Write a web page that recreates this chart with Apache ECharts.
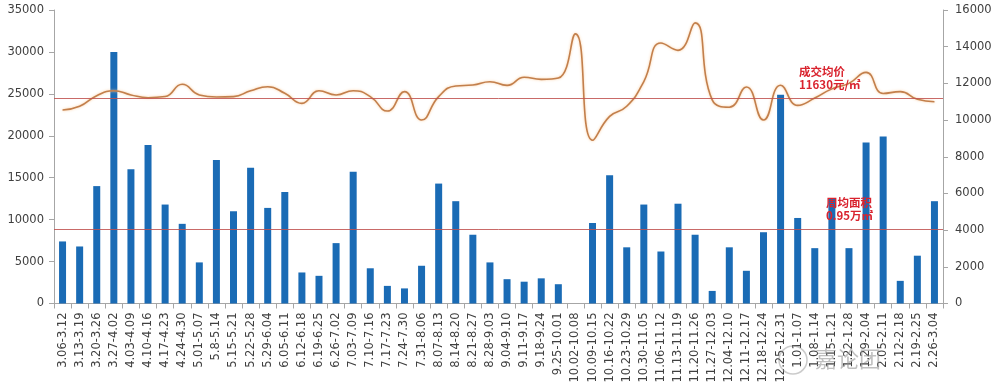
<!DOCTYPE html>
<html>
<head>
<meta charset="utf-8">
<script src="https://cdn.jsdelivr.net/npm/echarts@6/dist/echarts.min.js"></script>
<style>
html,body{margin:0;padding:0;background:#fff;}
#main{width:1000px;height:392px;}
</style>
</head>
<body>
<div id="main"></div>
<script>
var categories = ["3.06-3.12","3.13-3.19","3.20-3.26","3.27-4.02","4.03-4.09","4.10-4.16","4.17-4.23","4.24-4.30","5.01-5.07","5.8-5.14","5.15-5.21","5.22-5.28","5.29-6.04","6.05-6.11","6.12-6.18","6.19-6.25","6.26-7.02","7.03-7.09","7.10-7.16","7.17-7.23","7.24-7.30","7.31-8.06","8.07-8.13","8.14-8.20","8.21-8.27","8.28-9.03","9.04-9.10","9.11-9.17","9.18-9.24","9.25-10.01","10.02-10.08","10.09-10.15","10.16-10.22","10.23-10.29","10.30-11.05","11.06-11.12","11.13-11.19","11.20-11.26","11.27-12.03","12.04-12.10","12.11-12.17","12.18-12.24","12.25-12.31","1.01-1.07","1.08-1.14","1.15-1.21","1.22-1.28","1.29-2.04","2.05-2.11","2.12-2.18","2.19-2.25","2.26-3.04"];
var areaValues = [7400,6800,14000,30000,16000,18900,11800,9500,4900,17100,11000,16200,11400,13300,3700,3300,7200,15700,4200,2100,1800,4500,14300,12200,8200,4900,2900,2600,3000,2300,0,9600,15300,6700,11800,6200,11900,8200,1500,6700,3900,8500,24900,10200,6600,12500,6600,19200,19900,2700,5700,12200];
var priceValues = [10550,10750,11330,11600,11370,11220,11280,11950,11370,11260,11280,11600,11820,11460,10910,11600,11370,11600,11280,10490,11550,10000,11280,11860,11910,12090,11890,12330,12220,12290,14700,8900,10200,10750,12100,14200,13800,15300,11100,10700,11800,10000,11900,10800,11200,11700,12000,12600,11450,11550,11130,11000];
var avgArea = 8800;
var avgPrice = 11190;
var leftTicks = [0,5000,10000,15000,20000,25000,30000,35000];
var rightTicks = [0,2000,4000,6000,8000,10000,12000,14000,16000];
var priceNote = "成交均价\n11630元/㎡";
var areaNote = "周均面积\n0.95万㎡";

var chart = echarts.init(document.getElementById('main'), null, {renderer:'canvas'});
var FONT = '"DejaVu Sans", "Noto Sans CJK SC", sans-serif';
var axisColor = '#a6a6a6';
var labelColor = '#404040';
function plain(v){ return String(v); }
chart.setOption({
  animation: false,
  backgroundColor: '#ffffff',
  grid: {left: 54, right: 57, top: 10, bottom: 88.5, containLabel: false},
  xAxis: {
    type: 'category',
    data: categories,
    boundaryGap: true,
    axisLine: {lineStyle: {color: axisColor, width: 1}},
    axisTick: {show: true, alignWithLabel: false, length: 5, lineStyle: {color: axisColor}},
    axisLabel: {rotate: 90, interval: 0, margin: 9, fontSize: 11.5, color: labelColor, fontFamily: FONT}
  },
  yAxis: [{
    type: 'value', min: leftTicks[0], max: leftTicks[leftTicks.length-1], interval: 5000,
    position: 'left',
    axisLine: {show: true, lineStyle: {color: axisColor}},
    axisTick: {show: true, length: 5, lineStyle: {color: axisColor}},
    splitLine: {show: false},
    axisLabel: {fontSize: 11.5, color: labelColor, fontFamily: FONT, margin: 10, formatter: plain}
  },{
    type: 'value', min: rightTicks[0], max: rightTicks[rightTicks.length-1], interval: 2000,
    position: 'right',
    axisLine: {show: true, lineStyle: {color: axisColor}},
    axisTick: {show: true, length: 5, lineStyle: {color: axisColor}},
    splitLine: {show: false},
    axisLabel: {fontSize: 11.5, color: labelColor, fontFamily: FONT, margin: 12, formatter: plain}
  }],
  series: [{
    type: 'bar',
    yAxisIndex: 0,
    data: areaValues,
    barWidth: 7,
    itemStyle: {color: '#1a6bb5'},
    z: 2,
    markLine: {
      silent: true, symbol: 'none',
      label: {show: false},
      lineStyle: {color: '#c0504d', width: 1, type: 'solid', opacity: 0.85},
      data: [{yAxis: avgArea}]
    }
  },{
    type: 'line',
    yAxisIndex: 1,
    data: priceValues,
    smooth: 0.5,
    symbol: 'none',
    lineStyle: {color: '#c27f4c', width: 1.6, shadowColor: 'rgba(250,195,140,0.9)', shadowBlur: 2.5},
    z: 3,
    markLine: {
      silent: true, symbol: 'none',
      label: {show: false},
      lineStyle: {color: '#c0504d', width: 1, type: 'solid', opacity: 0.85},
      data: [{yAxis: avgPrice}]
    }
  }],
  graphic: [{
    type: 'text', left: 799, top: 65, z: 10,
    style: {text: priceNote, fill: '#d9232e', font: 'bold 11.5px "Noto Sans CJK SC", sans-serif', lineHeight: 13}
  },{
    type: 'text', left: 826, top: 196, z: 10,
    style: {text: areaNote, fill: '#d9232e', font: 'bold 11.5px "Noto Sans CJK SC", sans-serif', lineHeight: 13}
  },{
    type: 'text', left: 815, top: 348, z: 10,
    style: {text: '嘉论团', fill: 'rgba(140,140,140,0.55)', font: '22px "Noto Sans CJK SC", sans-serif'}
  },{
    type: 'circle', shape: {cx: 793, cy: 360, r: 14}, z: 10,
    style: {fill: 'none', stroke: 'rgba(140,140,140,0.45)', lineWidth: 1.5}
  }]
});
</script>
</body>
</html>
